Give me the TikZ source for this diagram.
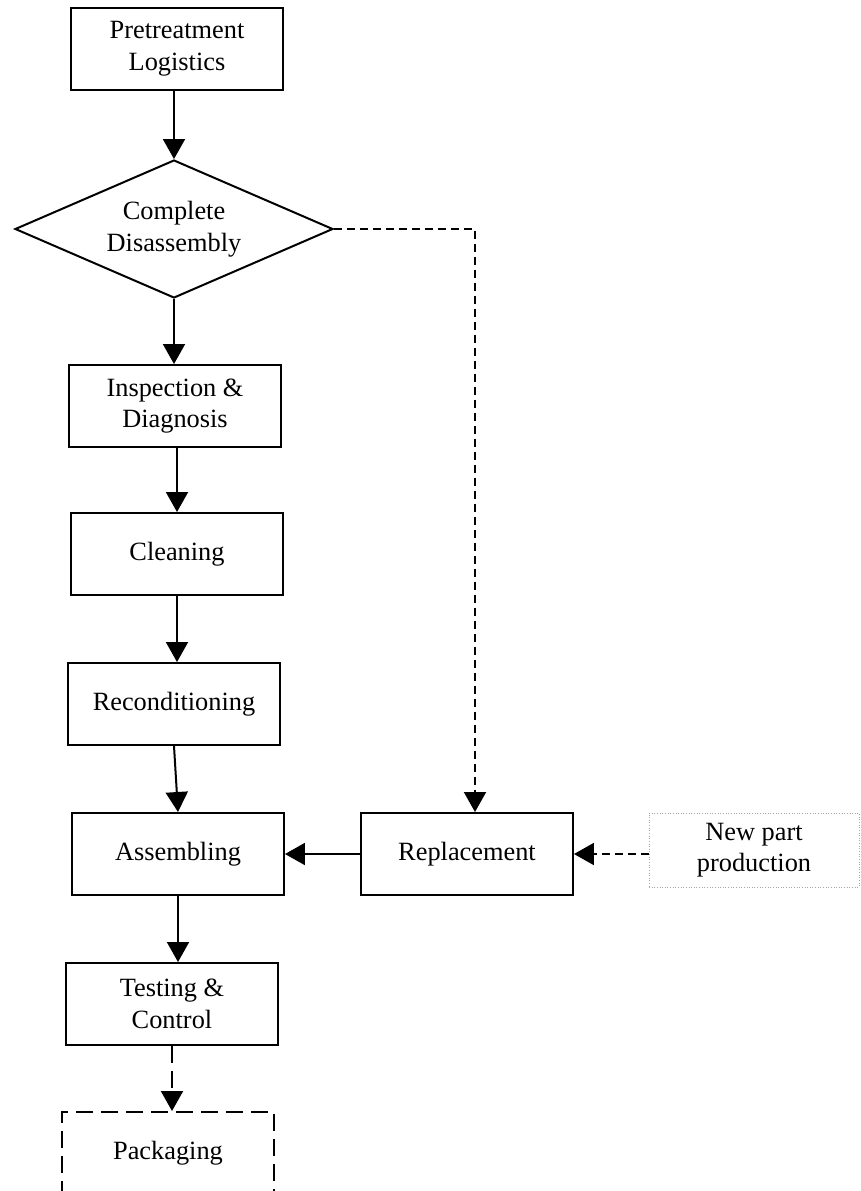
\documentclass[tikz,border=0pt]{standalone}
\usepackage{fontspec}
\setmainfont{Liberation Serif}
\usetikzlibrary{arrows.meta,shapes.geometric}
\begin{document}
\begin{tikzpicture}[x=0.02cm, y=-0.02cm, line width=0.04cm,
    txt/.style={font=\fontsize{15}{18}\selectfont, align=center},
    stepbox/.style={txt, draw, rectangle, inner sep=0pt, minimum width=4.24cm, minimum height=1.64cm},
    arr/.style={-{Triangle[length=0.4cm, width=0.44cm]}},
    dashline/.style={dash pattern=on 0.16cm off 0.1cm},
    longdash/.style={dash pattern=on 0.34cm off 0.16cm}]
    \useasboundingbox (0,0) rectangle (860,1191);

    % Main chain
    \node[stepbox] (pre) at (177,49) {Pretreatment\\Logistics};
    \node[txt, draw, diamond, aspect=2.3, inner sep=0pt, minimum width=6.36cm, minimum height=2.76cm] (dis) at (174,229) {Complete\\Disassembly};
    \node[stepbox] (insp) at (175,406) {Inspection \&\\Diagnosis};
    \node[stepbox] (clean) at (177,554) {Cleaning};
    \node[stepbox] (recon) at (174,704) {Reconditioning};
    \node[stepbox] (assem) at (178,854) {Assembling};
    \node[stepbox] (test) at (172,1004) {Testing \&\\Control};
    \node[stepbox, longdash] (pack) at (168,1153) {Packaging};

    % Side branch
    \node[stepbox] (repl) at (467,854) {Replacement};
    \node[stepbox, draw=gray!70, line width=0.5pt, densely dotted, minimum width=4.2cm, minimum height=1.48cm] (newpart) at (754,850) {New part\\production};

    % Arrows
    \draw[arr] (pre.south -| dis.north) -- (dis.north);
    \draw[arr] (dis.south) -- (dis.south |- insp.north);
    \draw[arr] (insp.south -| clean.north) -- (clean.north);
    \draw[arr] (clean.south) -- (clean.south |- recon.north);
    \draw[arr] (recon.south) -- (assem.north);
    \draw[arr] (assem.south) -- (assem.south |- test.north);
    \draw[arr, longdash] (test.south) -- (test.south |- pack.north);
    \draw[arr] (repl) -- (assem);
    \draw[arr, dashline] (dis.east) -| ([xshift=0.16cm]repl.north);
    \draw[arr, dashline] (newpart.west |- repl.east) -- (repl.east);
\end{tikzpicture}
\end{document}
